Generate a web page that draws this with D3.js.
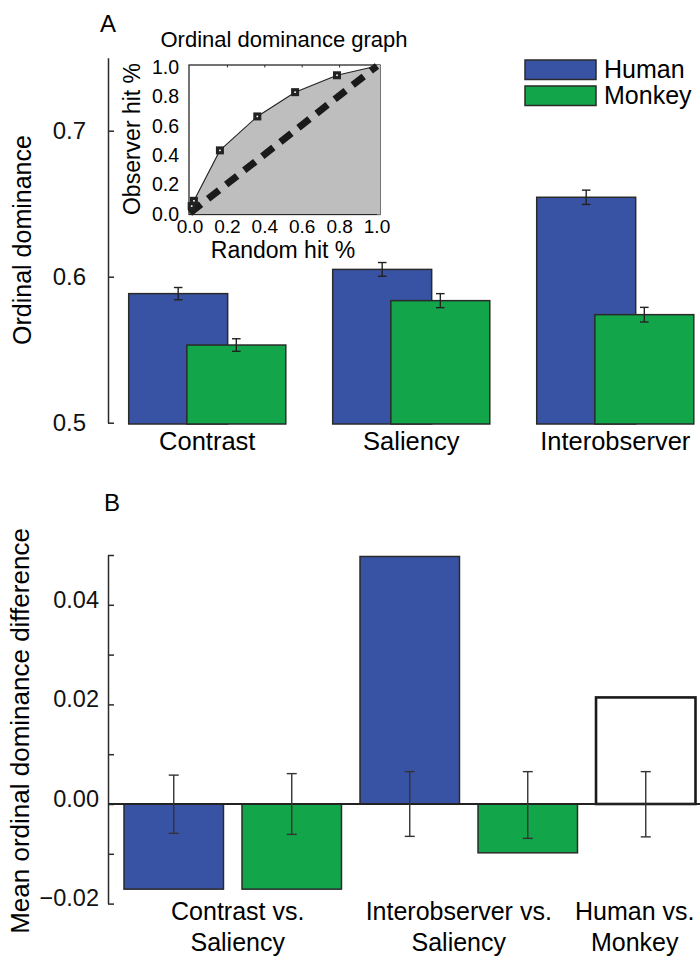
<!DOCTYPE html>
<html>
<head>
<meta charset="utf-8">
<script src="https://cdn.jsdelivr.net/npm/d3@7"></script>
<style>
  body { margin: 0; background: #fff; }
  svg { display: block; font-family: "Liberation Sans", Arial, Helvetica, sans-serif; }
  .axis path, .axis line { stroke: #2a2a2a; stroke-width: 1.5; }
  .axis text { fill: #111; }
</style>
</head>
<body>
<div id="chart"></div>
<script>
// Panel A: mean ordinal dominance per model
const categories = ["Contrast", "Saliency", "Interobserver"];
const humanMeans = [0.5884, 0.605, 0.6544];
const humanErr = [0.0042, 0.0047, 0.0049];
const monkeyMeans = [0.5532, 0.5836, 0.574];
const monkeyErr = [0.0043, 0.0048, 0.005];
const aTicks = [0.5, 0.6, 0.7];

// Inset: ordinal dominance graph
const rocRandomHit = [0, 0.009, 0.021, 0.16, 0.36, 0.562, 0.786, 1];
const rocObserverHit = [0, 0.047, 0.083, 0.426, 0.657, 0.822, 0.937, 1];
const insetTicks = [0, 0.2, 0.4, 0.6, 0.8, 1.0];

// Panel B: mean ordinal dominance differences
const diffComparisons = ["Contrast vs. Saliency", "Contrast vs. Saliency", "Interobserver vs. Saliency", "Interobserver vs. Saliency", "Human vs. Monkey"];
const diffSubjects = ["Human", "Monkey", "Human", "Monkey", "Both"];
const diffValues = [-0.0171, -0.0171, 0.0497, -0.0098, 0.0214];
const diffNullLow = [-0.0059, -0.0061, -0.0065, -0.0069, -0.0066];
const diffNullHigh = [0.0058, 0.0061, 0.0065, 0.0065, 0.0065];
const bTicks = [-0.02, -0.01, 0, 0.01, 0.02, 0.03, 0.04, 0.05];
const comparisonLabels = [["Contrast vs.", "Saliency"], ["Interobserver vs.", "Saliency"], ["Human vs.", "Monkey"]];

const colors = { Human: "#3953a4", Monkey: "#12a54a", Both: "#ffffff" };
const edge = "#2a2a2a";

const svg = d3.select("#chart").append("svg").attr("width", 700).attr("height", 956);

// ---------- Panel A ----------
const axisXA = 108;
const yA = d3.scaleLinear().domain([0.5, 0.75]).range([422.7, 57.7]);
const xA = d3.scaleBand().domain(categories).range([128.7, 693.8]).paddingInner(0.23);
const barWA = xA.bandwidth() * 0.63;
const shiftA = xA.bandwidth() - barWA;

svg.append("g")
  .attr("class", "axis")
  .attr("transform", `translate(${axisXA},0)`)
  .call(d3.axisLeft(yA).tickValues(aTicks).tickFormat(d3.format(".1f")).tickSizeInner(-6).tickSizeOuter(0).tickPadding(22))
  .call((g) => g.selectAll("text").style("font-size", "24px"));

svg.append("text")
  .attr("transform", "translate(31,240) rotate(-90)")
  .attr("text-anchor", "middle")
  .style("font-size", "25px")
  .text("Ordinal dominance");

svg.append("text").attr("x", 100).attr("y", 32).style("font-size", "24px").text("A");

const seriesA = [
  { name: "Human", means: humanMeans, err: humanErr, dx: 0 },
  { name: "Monkey", means: monkeyMeans, err: monkeyErr, dx: shiftA },
];

seriesA.forEach((s) => {
  const g = svg.append("g");
  g.selectAll("rect")
    .data(categories)
    .join("rect")
    .attr("x", (c) => xA(c) + s.dx)
    .attr("y", (c, i) => yA(s.means[i]))
    .attr("width", barWA)
    .attr("height", (c, i) => yA(0.5) + 1.3 - yA(s.means[i]))
    .attr("fill", colors[s.name])
    .attr("stroke", edge)
    .attr("stroke-width", 1.5);

  const eb = g.selectAll(".err")
    .data(categories)
    .join("g")
    .attr("class", "err")
    .attr("stroke", "#222")
    .attr("stroke-width", 1.4);
  const cx = (c) => xA(c) + s.dx + barWA / 2;
  eb.append("line")
    .attr("x1", cx).attr("x2", cx)
    .attr("y1", (c, i) => yA(s.means[i] + s.err[i]))
    .attr("y2", (c, i) => yA(s.means[i] - s.err[i]));
  [1, -1].forEach((sign) => {
    eb.append("line")
      .attr("x1", (c) => cx(c) - 4.3).attr("x2", (c) => cx(c) + 4.3)
      .attr("y1", (c, i) => yA(s.means[i] + sign * s.err[i]))
      .attr("y2", (c, i) => yA(s.means[i] + sign * s.err[i]));
  });
});

svg.append("g")
  .selectAll("text")
  .data(categories)
  .join("text")
  .attr("x", (c) => xA(c) + xA.bandwidth() / 2)
  .attr("y", 450)
  .attr("text-anchor", "middle")
  .style("font-size", "25.5px")
  .text((c) => c);

// legend
const legend = svg.append("g").attr("transform", "translate(525,60)");
["Human", "Monkey"].forEach((name, i) => {
  legend.append("rect")
    .attr("x", 0).attr("y", i * 26)
    .attr("width", 71).attr("height", 19.5)
    .attr("fill", colors[name]).attr("stroke", edge).attr("stroke-width", 1.5);
  legend.append("text")
    .attr("x", 79).attr("y", i * 26 + 17.5)
    .style("font-size", "25px")
    .text(name);
});

// ---------- Inset ----------
const xI = d3.scaleLinear().domain([0, 1]).range([190, 377]);
const yI = d3.scaleLinear().domain([0, 1]).range([213, 66]);
const roc = rocRandomHit.map((r, i) => [r, rocObserverHit[i]]);

const inset = svg.append("g");
inset.append("rect")
  .attr("x", 189).attr("y", 65)
  .attr("width", 191).attr("height", 149.5)
  .attr("fill", "#fff").attr("stroke", edge).attr("stroke-width", 1.3);

inset.append("path")
  .datum(roc)
  .attr("d", d3.area().x((d) => xI(d[0])).y0(yI(0) + 1).y1((d) => yI(d[1])))
  .attr("fill", "#bebebe");
inset.append("rect")
  .attr("x", xI(1)).attr("y", 65)
  .attr("width", 380 - xI(1)).attr("height", 149.5)
  .attr("fill", "#bebebe");

inset.append("line")
  .attr("x1", xI(0)).attr("y1", yI(0))
  .attr("x2", xI(1)).attr("y2", yI(1))
  .attr("stroke", "#1a1a1a").attr("stroke-width", 7)
  .attr("stroke-dasharray", "14,9");

inset.append("path")
  .datum(roc)
  .attr("d", d3.line().x((d) => xI(d[0])).y((d) => yI(d[1])))
  .attr("fill", "none").attr("stroke", "#222").attr("stroke-width", 1.1);

const marks = inset.selectAll(".mk").data(roc.slice(1, -1)).join("g").attr("class", "mk");
marks.append("rect")
  .attr("x", (d) => xI(d[0]) - 4).attr("y", (d) => yI(d[1]) - 4)
  .attr("width", 8).attr("height", 8)
  .attr("fill", "#222");
marks.append("rect")
  .attr("x", (d) => xI(d[0]) - 0.8).attr("y", (d) => yI(d[1]) - 0.8)
  .attr("width", 1.6).attr("height", 1.6)
  .attr("fill", "#fff");

inset.selectAll(".tt")
  .data(insetTicks.slice(1, -1))
  .join("line")
  .attr("x1", (d) => xI(d)).attr("x2", (d) => xI(d))
  .attr("y1", 65).attr("y2", 67.5)
  .attr("stroke", edge).attr("stroke-width", 1);

inset.selectAll(".yl")
  .data(insetTicks)
  .join("text")
  .attr("x", 179)
  .attr("y", (d) => yI(d) + 1)
  .attr("dy", "0.35em")
  .attr("text-anchor", "end")
  .style("font-size", "19.5px")
  .text(d3.format(".1f"));

inset.selectAll(".xl")
  .data(insetTicks)
  .join("text")
  .attr("x", (d) => xI(d))
  .attr("y", 233)
  .attr("text-anchor", "middle")
  .style("font-size", "19px")
  .text(d3.format(".1f"));

inset.append("text")
  .attr("x", 284).attr("y", 47)
  .attr("text-anchor", "middle")
  .style("font-size", "22px")
  .text("Ordinal dominance graph");
inset.append("text")
  .attr("x", 283).attr("y", 258)
  .attr("text-anchor", "middle")
  .style("font-size", "23px")
  .text("Random hit %");
inset.append("text")
  .attr("transform", "translate(140,139) rotate(-90)")
  .attr("text-anchor", "middle")
  .style("font-size", "23px")
  .text("Observer hit %");

// ---------- Panel B ----------
const axisXB = 108;
const yB = d3.scaleLinear().domain([-0.02, 0.05]).range([903.6, 555]);
const xB = d3.scaleBand().domain(d3.range(diffValues.length)).range([124, 695.5]).paddingInner(0.157);
const fmtB = d3.format(".2f");

svg.append("g")
  .attr("class", "axis")
  .attr("transform", `translate(${axisXB},0)`)
  .call(d3.axisLeft(yB).tickValues(bTicks)
    .tickFormat((d) => (Math.round(d * 100) % 2 === 0 ? fmtB(d) : ""))
    .tickSizeInner(-6).tickSizeOuter(0).tickPadding(9))
  .call((g) => g.selectAll("text").attr("dy", "0.1em").style("font-size", "23.5px"));

svg.append("text")
  .attr("transform", "translate(29,731) rotate(-90)")
  .attr("text-anchor", "middle")
  .style("font-size", "26px")
  .text("Mean ordinal dominance difference");

svg.append("text").attr("x", 104).attr("y", 511).style("font-size", "24px").text("B");

svg.append("g")
  .selectAll("rect")
  .data(diffValues)
  .join("rect")
  .attr("x", (d, i) => xB(i))
  .attr("y", (d) => yB(Math.max(0, d)))
  .attr("width", xB.bandwidth())
  .attr("height", (d) => Math.abs(yB(d) - yB(0)))
  .attr("fill", (d, i) => colors[diffSubjects[i]])
  .attr("stroke", (d, i) => (diffSubjects[i] === "Both" ? "#1a1a1a" : edge))
  .attr("stroke-width", (d, i) => (diffSubjects[i] === "Both" ? 2.6 : 1.5));

svg.append("line")
  .attr("x1", axisXB).attr("x2", 700)
  .attr("y1", yB(0)).attr("y2", yB(0))
  .attr("stroke", "#222").attr("stroke-width", 2.2);

const ebB = svg.append("g")
  .selectAll("g")
  .data(diffValues)
  .join("g")
  .attr("stroke", "#333")
  .attr("stroke-width", 1.4);
const cxB = (i) => xB(i) + xB.bandwidth() / 2;
ebB.append("line")
  .attr("x1", (d, i) => cxB(i)).attr("x2", (d, i) => cxB(i))
  .attr("y1", (d, i) => yB(diffNullHigh[i]))
  .attr("y2", (d, i) => yB(diffNullLow[i]));
[diffNullHigh, diffNullLow].forEach((arr) => {
  ebB.append("line")
    .attr("x1", (d, i) => cxB(i) - 5).attr("x2", (d, i) => cxB(i) + 5)
    .attr("y1", (d, i) => yB(arr[i])).attr("y2", (d, i) => yB(arr[i]));
});

// comparison labels, centred under their bars, nudged to fit the page
const labelNudge = [5, -10, -11];
const groups = d3.groups(d3.range(diffValues.length), (i) => diffComparisons[i]);
svg.append("g")
  .selectAll("text")
  .data(groups)
  .join("text")
  .attr("text-anchor", "middle")
  .style("font-size", "25px")
  .each(function ([name, idx], k) {
    const mid = d3.mean(idx, (i) => cxB(i)) + labelNudge[k];
    const t = d3.select(this);
    comparisonLabels[k].forEach((line, j) => {
      t.append("tspan").attr("x", mid).attr("y", 920 + j * 30.7).text(line);
    });
  });
</script>
</body>
</html>
